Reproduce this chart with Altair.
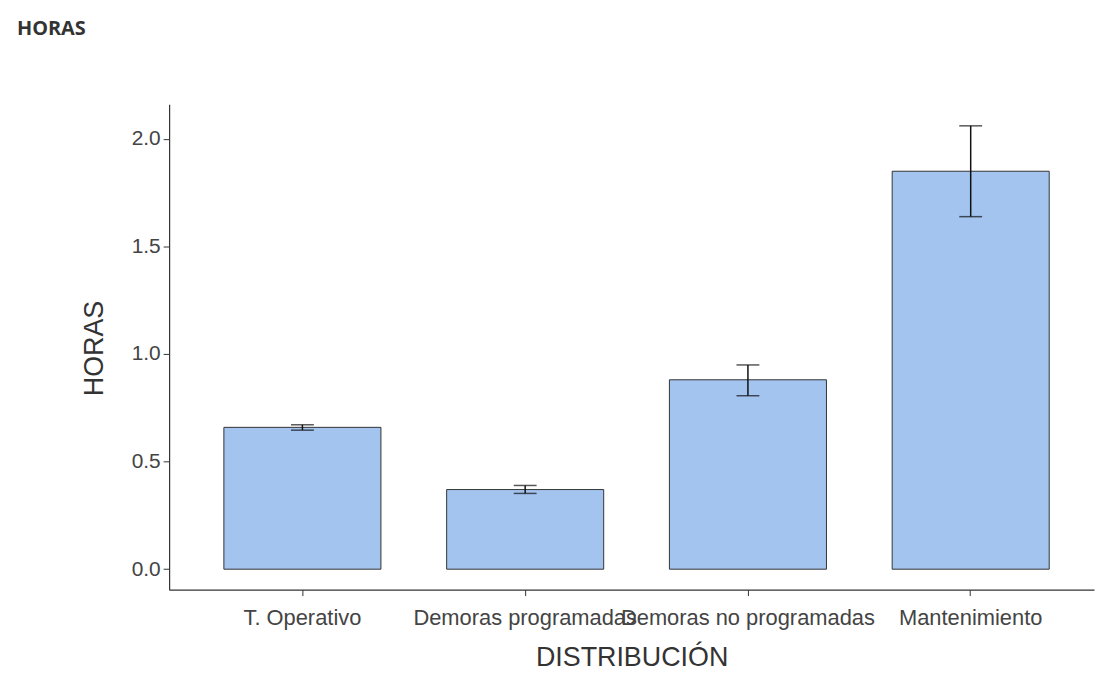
import altair as alt
import pandas as pd

categorias = ["T. Operativo", "Demoras programadas", "Demoras no programadas", "Mantenimiento"]
medias = [0.659, 0.370, 0.880, 1.849]
error_bajo = [0.646, 0.352, 0.806, 1.638]
error_alto = [0.671, 0.389, 0.949, 2.060]

df = pd.DataFrame({
    "cat": categorias,
    "media": medias,
    "lo": error_bajo,
    "hi": error_alto,
})

FONT = "Liberation Sans"
GRAY = "#333333"
LABEL_GRAY = "#444444"

x_enc = alt.X(
    "cat:N",
    sort=categorias,
    scale=alt.Scale(paddingInner=0.295, paddingOuter=0.2235, align=0.55),
    axis=alt.Axis(
        title="DISTRIBUCIÓN",
        labelAngle=0,
        labelFont=FONT,
        labelFontSize=22,
        labelColor=LABEL_GRAY,
        labelPadding=12,
        labelOverlap=False,
        labelLimit=0,
        tickSize=6,
        tickColor=GRAY,
        domainColor=GRAY,
        domainWidth=1.2,
        titleFont=FONT,
        titleFontSize=27,
        titleFontWeight="normal",
        titleColor=GRAY,
        titleBaseline="middle",
        titleX=465,
        titleY=68,
    ),
)

y_scale = alt.Scale(domain=[-0.095, 2.16], nice=False, zero=False)

bars = alt.Chart(df).mark_bar(
    color="#A4C4F0", stroke=GRAY, strokeWidth=1
).encode(
    x=x_enc,
    y=alt.Y(
        "media:Q",
        scale=y_scale,
        axis=alt.Axis(
            title="HORAS",
            values=[0, 0.5, 1.0, 1.5, 2.0],
            format=".1f",
            grid=False,
            labelFont=FONT,
            labelFontSize=21,
            labelColor=LABEL_GRAY,
            labelPadding=3,
            tickSize=6,
            tickColor=GRAY,
            domainColor=GRAY,
            domainWidth=1.2,
            titleFont=FONT,
            titleFontSize=27,
            titleFontWeight="normal",
            titleColor=GRAY,
            titleBaseline="middle",
            titleX=-75,
            titleY=245,
        ),
    ),
    y2=alt.datum(0),
)

rules = alt.Chart(df).mark_rule(color="#111111", strokeWidth=1.5).encode(
    x=alt.X("cat:N", sort=categorias),
    y=alt.Y("lo:Q", scale=y_scale),
    y2="hi:Q",
)

caps_lo = alt.Chart(df).mark_tick(color="#111111", thickness=1.5, size=23, orient="horizontal").encode(
    x=alt.X("cat:N", sort=categorias),
    y=alt.Y("lo:Q", scale=y_scale),
)
caps_hi = alt.Chart(df).mark_tick(color="#111111", thickness=1.5, size=23, orient="horizontal").encode(
    x=alt.X("cat:N", sort=categorias),
    y=alt.Y("hi:Q", scale=y_scale),
)

chart = alt.layer(bars, rules, caps_lo, caps_hi).properties(
    width=930,
    height=488,
    autosize=alt.AutoSizeParams(type="none"),
    padding={"left": 162, "top": 95, "right": 5, "bottom": 84},
    title=alt.TitleParams(
        text="HORAS",
        anchor="start",
        frame="group",
        font="Open Sans",
        fontSize=20,
        fontWeight="bold",
        color=GRAY,
        dx=-153,
        offset=66,
    ),
).configure_view(stroke=None)

chart.save("out.html", embed_options={"renderer": "svg", "actions": False})
